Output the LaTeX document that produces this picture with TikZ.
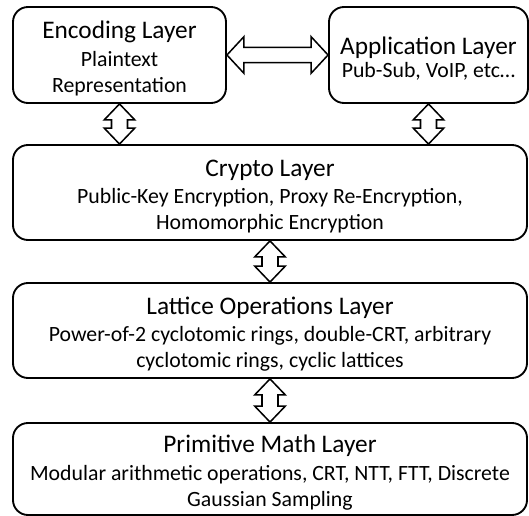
\documentclass[tikz,border=0pt]{standalone}
\usepackage{fontspec}
\setmainfont{Carlito}
\usetikzlibrary{calc}
\newcommand{\layertitle}{\fontsize{21.6}{24}\selectfont}
\newcommand{\layertext}{\fontsize{18.6}{22.2}\selectfont}
\newcommand{\layername}[1]{{\layertitle\rule{0pt}{21pt}#1}}
\begin{document}
\begin{tikzpicture}[x=0.03cm,y=-0.03cm,
  layer/.style={draw,line width=1.6pt,rounded corners=0.45cm,align=center,inner sep=0pt,font=\layertext},
  vlink/.style={draw,line width=1.3pt,fill=white,to path={let \p1=(\tikztostart),\p2=(\tikztotarget) in
    (\x1,\y1) -- (\x1+0.46cm,\y1-0.48cm) -- (\x1+0.24cm,\y1-0.48cm) -- (\x1+0.24cm,\y2+0.48cm)
    -- (\x1+0.46cm,\y2+0.48cm) -- (\x1,\y2) -- (\x1-0.46cm,\y2+0.48cm) -- (\x1-0.24cm,\y2+0.48cm)
    -- (\x1-0.24cm,\y1-0.48cm) -- (\x1-0.46cm,\y1-0.48cm) -- cycle}},
  hlink/.style={draw,line width=1.3pt,fill=white,to path={let \p1=(\tikztostart),\p2=(\tikztotarget) in
    (\x1,\y1) -- (\x1+0.51cm,\y1+0.55cm) -- (\x1+0.51cm,\y1+0.23cm) -- (\x2-0.51cm,\y1+0.23cm)
    -- (\x2-0.51cm,\y1+0.55cm) -- (\x2,\y1) -- (\x2-0.51cm,\y1-0.55cm) -- (\x2-0.51cm,\y1-0.23cm)
    -- (\x1+0.51cm,\y1-0.23cm) -- (\x1+0.51cm,\y1-0.55cm) -- cycle}}]
\useasboundingbox (0,0) rectangle (529,516);
% layers
\node[layer,minimum width=6.39cm,minimum height=2.88cm] (enc) at (119.5,55)
  {\layername{Encoding Layer}\\[1pt]Plaintext\\Representation};
\node[layer,minimum width=5.97cm,minimum height=2.88cm] (app) at (428.5,55)
  {\layername{Application Layer}\\[-2.5pt]Pub-Sub, VoIP, etc…};
\node[layer,minimum width=15.42cm,minimum height=2.85cm] (crypto) at (270,192.5)
  {\layername{Crypto Layer}\\[1pt]Public-Key Encryption, Proxy Re-Encryption,\\Homomorphic Encryption};
\node[layer,minimum width=15.42cm,minimum height=2.85cm] (lattice) at (270,330.5)
  {\layername{Lattice Operations Layer}\\[1pt]Power-of-2 cyclotomic rings, double-CRT, arbitrary\\cyclotomic rings, cyclic lattices};
\node[layer,minimum width=15.42cm,minimum height=2.76cm] (prim) at (270,469)
  {\layername{Primitive Math Layer}\\[1pt]Modular arithmetic operations, CRT, NTT, FTT, Discrete\\Gaussian Sampling};
% links
\path[hlink] (enc.east) to (app.west);
\path[vlink] (enc.south) to (crypto.north);
\path[vlink] (app.south) to (crypto.north);
\path[vlink] (crypto.south) to (lattice.north);
\path[vlink] (lattice.south) to (prim.north);
\end{tikzpicture}
\end{document}
